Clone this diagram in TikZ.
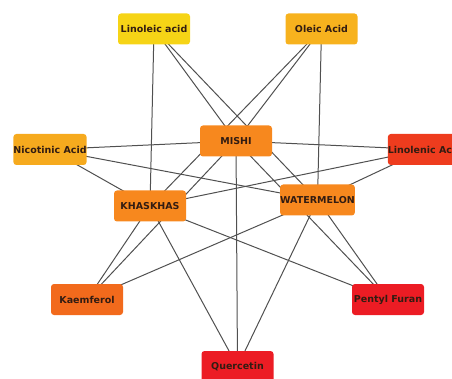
\documentclass[tikz,border=0pt]{standalone}
\usepackage{fontspec}
\newfontfamily\netfont{DejaVu Sans}
\usepackage{tikz}
\usetikzlibrary{backgrounds}
\usepackage{xcolor}
\definecolor{hubor}{RGB}{247,136,30}
\definecolor{linyel}{RGB}{246,212,22}
\definecolor{oleor}{RGB}{247,178,30}
\definecolor{nicor}{RGB}{246,170,30}
\definecolor{kaeor}{RGB}{242,106,28}
\definecolor{lnlred}{RGB}{238,60,30}
\definecolor{deepred}{RGB}{236,28,36}
\definecolor{txtbrown}{RGB}{50,28,18}
\definecolor{edgegray}{RGB}{80,80,80}

\begin{document}
\begin{tikzpicture}[
  x=1pt, y=-1pt,
  font=\netfont\bfseries\fontsize{9.5}{11}\selectfont,
  comp/.style={rectangle, rounded corners=3pt, minimum width=72pt, minimum height=31pt,
    inner xsep=0pt, text=txtbrown},
  edge/.style={draw=edgegray, line width=1pt}
]
\useasboundingbox (0,0) rectangle (452,379);

\node[comp, fill=linyel]  (linoleic)   at (154,29)    {Linoleic acid};
\node[comp, fill=oleor]   (oleic)      at (321.5,29)  {Oleic Acid};
\node[comp, fill=hubor]   (mishi)      at (236,141)   {MISHI};
\node[comp, fill=nicor]   (nicotinic)  at (50,149.5)  {Nicotinic Acid};
\node[comp, fill=lnlred]  (linolenic)  at (425,149.5) {Linolenic Acid};
\node[comp, fill=hubor]   (khaskhas)   at (150,206)   {KHASKHAS};
\node[comp, fill=hubor]   (watermelon) at (317.5,200) {WATERMELON};
\node[comp, fill=kaeor]   (kaemferol)  at (87,299.5)  {Kaemferol};
\node[comp, fill=deepred] (pentyl)     at (388,299.5) {Pentyl Furan};
\node[comp, fill=deepred] (quercetin)  at (237.5,366.5) {Quercetin};

\begin{scope}[on background layer]
% MISHI
\draw[edge] (mishi.center) -- (linoleic.center);
\draw[edge] (mishi.center) -- (oleic.center);
\draw[edge] (mishi.center) -- (nicotinic.center);
\draw[edge] (mishi.center) -- (linolenic.center);
\draw[edge] (mishi.center) -- (kaemferol.center);
\draw[edge] (mishi.center) -- (pentyl.center);
\draw[edge] (mishi.center) -- (quercetin.center);
% KHASKHAS
\draw[edge] (khaskhas.center) -- (linoleic.center);
\draw[edge] (khaskhas.center) -- (oleic.center);
\draw[edge] (khaskhas.center) -- (nicotinic.center);
\draw[edge] (khaskhas.center) -- (linolenic.center);
\draw[edge] (khaskhas.center) -- (kaemferol.center);
\draw[edge] (khaskhas.center) -- (pentyl.center);
\draw[edge] (khaskhas.center) -- (quercetin.center);
% WATERMELON
\draw[edge] (watermelon.center) -- (linoleic.center);
\draw[edge] (watermelon.center) -- (oleic.center);
\draw[edge] (watermelon.center) -- (nicotinic.center);
\draw[edge] (watermelon.center) -- (linolenic.center);
\draw[edge] (watermelon.center) -- (kaemferol.center);
\draw[edge] (watermelon.center) -- (pentyl.center);
\draw[edge] (watermelon.center) -- (quercetin.center);
\end{scope}
\end{tikzpicture}
\end{document}
